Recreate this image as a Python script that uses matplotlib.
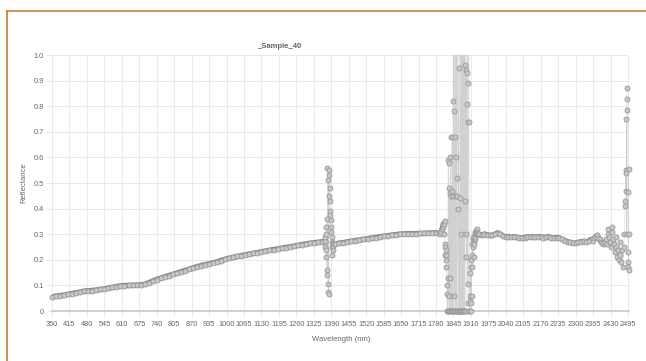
import numpy as np
import matplotlib.pyplot as plt
from matplotlib.lines import Line2D

plt.rcParams['font.family'] = ['Liberation Sans', 'DejaVu Sans']

# smooth part, 350-1365 nm
wl_a = [350, 365, 380, 395, 410, 425, 440, 455, 470, 485, 500, 515, 530, 545, 560, 575,
        590, 605, 620, 635, 650, 665, 680, 695, 710, 725, 740, 755, 770, 785, 800, 815,
        830, 845, 860, 875, 890, 905, 920, 935, 950, 965, 980, 995, 1010, 1025, 1040,
        1055, 1070, 1085, 1100, 1115, 1130, 1145, 1160, 1175, 1190, 1205, 1220, 1235,
        1250, 1265, 1280, 1295, 1310, 1325, 1340, 1355, 1365]
refl_a = [.055, .058, .060, .062, .065, .068, .071, .074, .077, .079, .080, .082, .084,
          .086, .089, .092, .095, .098, .099, .100, .100, .101, .102, .104, .110, .117,
          .123, .128, .133, .138, .143, .148, .153, .158, .163, .168, .173, .177, .181,
          .184, .188, .192, .197, .202, .206, .209, .213, .216, .219, .222, .225, .228,
          .231, .234, .237, .240, .242, .245, .248, .250, .253, .256, .259, .262, .264,
          .266, .268, .270, .272]

# water band noise near 1380 nm
wl_b = [1366, 1367, 1368, 1369, 1370, 1371, 1372, 1373, 1374, 1375, 1376, 1377, 1378,
        1379, 1380, 1381, 1382, 1383, 1384, 1385, 1386, 1387, 1388, 1389, 1390, 1391,
        1392, 1393, 1394, 1395, 1396, 1397, 1398, 1400]
refl_b = [.275, .29, .25, .30, .24, .21, .33, .16, .36, .14, .56, .105, .51, .075, .55,
          .065, .53, .45, .48, .43, .39, .375, .355, .33, .31, .29, .22, .27, .25, .265,
          .24, .26, .255, .262]

# smooth part, 1405-1808 nm
wl_c = [1405, 1420, 1435, 1450, 1465, 1480, 1495, 1510, 1525, 1540, 1555, 1570, 1585,
        1600, 1615, 1630, 1645, 1660, 1675, 1690, 1705, 1720, 1735, 1750, 1765, 1780,
        1790, 1795, 1800, 1803, 1806, 1808]
refl_c = [.262, .265, .267, .270, .272, .275, .277, .280, .282, .285, .287, .290, .292,
          .294, .296, .298, .300, .301, .302, .302, .302, .303, .303, .304, .305, .305,
          .303, .300, .310, .320, .330, .340]

# water band noise near 1870 nm (values above 1 run off the chart)
wl_d = list(range(1810, 1937))
refl_d = [.34, .30, .35, .26, .25, .22, .24, .20, .17, .22, .10, .065, 0, .13, 0, .59,
          0, .58, .06, .48, 0, .46, 0, .60, .13, .45, 0, .68, 0, .47, 0, .68, .45, 0,
          1.8, .82, 0, .78, 2.5, .06, .68, 0, 2.2, .45, 0, .60, 3.0, 0, .52, 2.0, .45, 0,
          .40, 0, .95, 0, 2.5, 0, 0, .44, 0, 1.5, 0, 1.4, .30, 0, 2.0, 0, 1.6, 0, 2.2, 0,
          1.5, 0, 1.8, 0, 3.0, .43, 0, .96, .30, 2.0, .94, .21, .93, 0, .81, 2.5, .105,
          .74, .03, .89, 1.7, .74, 0, 0, .04, .15, .06, 0, .17, .03, .20, .06, .26, .17,
          .22, .28, .29, .25, .21, .27, .28, .26, .30, .28, .31, .29, .30, .315, .31, .32,
          .30, .31, .305, .30, .30]

# smooth part, 1940-2405 nm
wl_e = [1940, 1950, 1960, 1970, 1980, 1990, 2000, 2010, 2020, 2030, 2040, 2050, 2060,
        2070, 2080, 2090, 2100, 2110, 2120, 2130, 2140, 2150, 2160, 2170, 2180, 2190,
        2200, 2210, 2220, 2230, 2240, 2250, 2260, 2270, 2280, 2290, 2300, 2310, 2320,
        2330, 2340, 2350, 2360, 2365, 2370, 2375, 2380, 2385, 2390, 2395, 2400, 2405]
refl_e = [.300, .295, .300, .298, .295, .295, .300, .305, .300, .293, .290, .290, .288,
          .290, .288, .285, .285, .287, .290, .288, .290, .288, .290, .290, .287, .288,
          .290, .285, .285, .287, .285, .280, .275, .270, .268, .265, .265, .268, .270,
          .272, .268, .275, .280, .275, .285, .290, .295, .285, .280, .270, .265, .260]

# noisy end, 2410-2500 nm
wl_f = [2410, 2413, 2416, 2419, 2422, 2425, 2428, 2431, 2434, 2437, 2440, 2443, 2446,
        2449, 2452, 2455, 2458, 2461, 2464, 2467, 2470, 2473, 2476, 2479, 2482, 2484,
        2485, 2486, 2487, 2488, 2489, 2490, 2491, 2492, 2493, 2494, 2495, 2496, 2497,
        2498, 2499, 2500]
refl_f = [.27, .28, .26, .30, .32, .29, .27, .25, .31, .33, .28, .26, .23, .29, .25, .21,
          .24, .20, .27, .22, .19, .24, .17, .25, .30, .41, .43, .55, .54, .47, .75, .30,
          .87, .83, .785, .465, .23, .19, .17, .555, .30, .16]

x_ticks = list(range(350, 2496, 65))
y_ticks = [0, .1, .2, .3, .4, .5, .6, .7, .8, .9, 1.0]
y_labels = ['0', '0.1', '0.2', '0.3', '0.4', '0.5', '0.6', '0.7', '0.8', '0.9', '1.0']

wl = np.array(wl_a + wl_b + wl_c + wl_d + wl_e + wl_f)
refl = np.array(refl_a + refl_b + refl_c + refl_d + refl_e + refl_f)

W, H = 646, 361
fig = plt.figure(figsize=(W / 100, H / 100), dpi=100)
ax = fig.add_axes([52 / W, 1 - 311 / H, (629.3 - 52) / W, 256 / H])

# thin connecting line over all points
ax.plot(wl, refl, color='#d0d0d0', lw=0.35, zorder=2)
# thick band where readings are smooth
for sw, sr in [(wl_a, refl_a), (wl_c, refl_c), (wl_e, refl_e)]:
    ax.plot(sw, sr, color='#8a8a8a', lw=4.0, solid_capstyle='round', zorder=3)
    ax.plot(sw, sr, color='#a8a8a8', lw=1.8, solid_capstyle='round', zorder=3)
vis = np.where(refl <= 1.0, refl, np.nan)
ax.plot(wl, vis, ls='none', marker='o', ms=3.6, mfc='#c8c8c8', mec='#999999',
        mew=0.6, zorder=4, clip_on=False)

ax.set_xlim(350, 2500)
ax.set_ylim(0, 1)
ax.set_xticks(x_ticks)
ax.set_xticklabels([str(t) for t in x_ticks])
ax.set_yticks(y_ticks)
ax.set_yticklabels(y_labels)
ax.grid(True, color='#e6e6e6', lw=0.6, zorder=0)
ax.set_axisbelow(True)
for s in ['top', 'right', 'left']:
    ax.spines[s].set_visible(False)
ax.spines['bottom'].set_color('#cfcfcf')
ax.spines['bottom'].set_linewidth(1.4)
ax.tick_params(axis='both', length=4, width=0.6, color='#e6e6e6', labelsize=5.3,
               labelcolor='#666666', pad=2)
ax.tick_params(axis='x', pad=3)

ax.set_xlabel('Wavelength (nm)', fontsize=5.5, color='#666666', labelpad=6)
ax.set_ylabel('Reflectance', fontsize=5.5, color='#666666', labelpad=4)
fig.text(279 / W, 1 - 47 / H, '_Sample_40', ha='center', va='center', fontsize=5.5,
         fontweight='bold', color='#666666')

# orange frame around the card
fig.add_artist(Line2D([6.5 / W, 1], [1 - 11 / H, 1 - 11 / H], color='#c8873a', lw=1.3))
fig.add_artist(Line2D([6.5 / W, 6.5 / W], [0, 1 - 11 / H], color='#c8873a', lw=1.3))

fig.savefig('out.png', dpi=100)
